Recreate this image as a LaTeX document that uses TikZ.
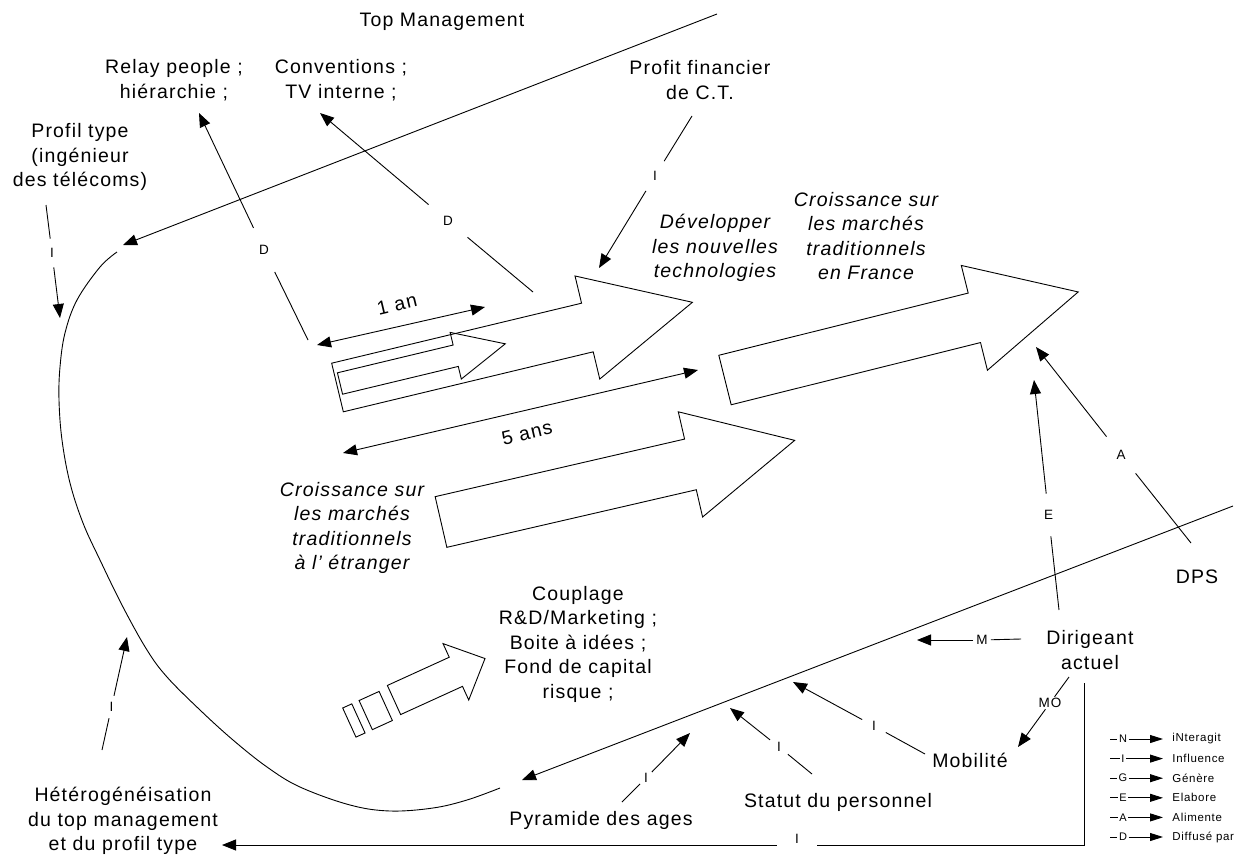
\documentclass[tikz,border=0pt]{standalone}
\usepackage{fontspec}
\setmainfont{Liberation Sans}[LetterSpace=6]
\usetikzlibrary{arrows.meta}
\newcommand\blockarr[7]{%
  \begin{scope}[shift={(#1,#2)},rotate=#3]
    \draw[ba] (0,-#6) -- (#5,-#6) -- (#5,-#7) -- (#4,0) -- (#5,#7) -- (#5,#6) -- (0,#6) -- cycle;
  \end{scope}}
\begin{document}
\begin{tikzpicture}[x=1pt,y=-1pt,line width=0.9pt,
  txt/.style={align=center,inner sep=0pt,font=\fontsize{19.5}{24.5}\selectfont},
  itx/.style={align=center,inner sep=0pt,font=\fontsize{19.5}{24.5}\selectfont\itshape},
  lab/.style={circle,inner sep=0pt,minimum size=#1,font=\fontsize{13.5}{14}\selectfont},
  lab/.default=30,
  labr/.style={rectangle,inner sep=#1,font=\fontsize{13.5}{14}\selectfont},
  labr/.default=1pt,
  arr/.style={-{Triangle[length=14pt,width=11pt]}},
  dbl/.style={{Triangle[length=14pt,width=11pt]}-{Triangle[length=14pt,width=11pt]}},
  ba/.style={line join=miter},
  lgarr/.style={-{Triangle[length=13pt,width=8pt]}}
]
\fill[white] (0,0) rectangle (1243,857);
\useasboundingbox (0,0) rectangle (1243,857);

% ---------- texts ----------
\node[txt] (top) at (442,22) {Top Management};
\node[txt] (relay) at (174,80) {Relay people ;\\hiérarchie ;};
\node[txt] (conv) at (341,80) {Conventions ;\\TV interne ;};
\node[txt] (profit) at (700,80) {Profit financier\\de C.T.};
\node[txt] (profil) at (80,157) {Profil type\\(ingénieur\\des télécoms)};
\node[itx] (dev) at (715,248) {Développer\\les nouvelles\\technologies};
\node[itx] (france) at (866,236) {Croissance sur\\les marchés\\traditionnels\\en France};
\node[itx] (etr) at (352,528) {Croissance sur\\les marchés\\traditionnels\\à l' étranger};
\node[txt] (coupl) at (578,644) {Couplage\\R\&D/Marketing ;\\Boite à idées ;\\Fond de capital\\risque ;};
\node[txt] (hetero) at (123,821) {Hétérogénéisation\\du top management\\et du profil type};
\node[txt] (pyr) at (601,820) {Pyramide des ages};
\node[txt] (statut) at (838,802) {Statut du personnel};
\node[txt] (mob) at (970,760) {Mobilité};
\node[txt] (dir) at (1090,650) {Dirigeant\\actuel};
\node[txt] (dps) at (1197,577) {DPS};
\node[txt,rotate=13.5] (unan) at (397,304) {1 an};
\node[txt,rotate=13.5] (cinq) at (527,433) {5 ans};

% ---------- block arrows ----------
\blockarr{337.5}{387.5}{13.5}{365}{257}{25}{53}
\blockarr{340}{383.5}{13.5}{170}{119}{11}{24}
\blockarr{725}{380}{14}{364}{257}{25.5}{54}
\blockarr{441}{522}{13}{363}{256}{26}{54}
\blockarr{394}{700}{24.5}{100}{68}{16}{31}
\begin{scope}[shift={(394,700)},rotate=24.5]
  \draw (-32,-14) rectangle (-10,18);
  \draw (-50,-14) rectangle (-40,18);
\end{scope}

% ---------- big cycle ----------
\coordinate (tmA) at (717,14);
\coordinate (tmB) at (123,245);
\draw[arr] (tmA) -- (tmB);
\draw plot[smooth,tension=0.6] coordinates {(117,252) (100,267) (77,300) (65,333) (60,367) (59,400) (62,440) (70,483) (83,523) (100,560) (123,607) (147,650) (167,677) (200,710) (233,740) (267,767) (300,787) (350,805) (390,811) (433,808) (467,800) (500,788)};
\coordinate (brA) at (1233,506);
\coordinate (brB) at (522,780);
\draw[arr] (brA) -- (brB);

% ---------- labelled connectors ----------
\coordinate (rlA) at (308,340); \coordinate (rlB) at (199,113);
\node[lab=48] (rlD) at (264,250) {D};
\draw (rlA) -- (rlD); \draw[arr] (rlD) -- (rlB);

\coordinate (cvA) at (533,292); \coordinate (cvB) at (320,113);
\node[lab=50] (cvD) at (448,221) {D};
\draw (cvA) -- (cvD); \draw[arr] (cvD) -- (cvB);

\coordinate (pfA) at (692,116); \coordinate (pfB) at (599,268);
\node[lab=34] (pfI) at (655,176) {I};
\draw (pfA) -- (pfI); \draw[arr] (pfI) -- (pfB);

\coordinate (ptA) at (46,205); \coordinate (ptB) at (60,318);
\node[lab=28] (ptI) at (52,253) {I};
\draw (ptA) -- (ptI); \draw[arr] (ptI) -- (ptB);

\coordinate (htA) at (102,750); \coordinate (htB) at (127,637);
\node[lab=22] (htI) at (111.5,707) {I};
\draw (htA) -- (htI); \draw[arr] (htI) -- (htB);

\coordinate (pyA) at (622,802); \coordinate (pyB) at (690,733);
\node[lab=16] (pyI) at (646,778) {I};
\draw (pyA) -- (pyI); \draw[arr] (pyI) -- (pyB);

\coordinate (stA) at (812,774); \coordinate (stB) at (730,708);
\node[lab=22] (stI) at (779,747) {I};
\draw (stA) -- (stI); \draw[arr] (stI) -- (stB);

\coordinate (moA) at (925,754); \coordinate (moB) at (793,682);
\node[lab=26] (moI) at (874,726) {I};
\draw (moA) -- (moI); \draw[arr] (moI) -- (moB);

\coordinate (mA) at (1021,639); \coordinate (mB) at (917,640);
\node[lab=17] (mM) at (982,640) {M};
\draw (mA) -- (mM); \draw[arr] (mM) -- (mB);

\coordinate (mobA) at (1069,677); \coordinate (mobB) at (1018,747);
\node[labr] (mobL) at (1050,703) {MO};
\draw (mobA) -- (mobL); \draw[arr] (mobL) -- (mobB);

\coordinate (eA) at (1059,610); \coordinate (eB) at (1034,380);
\node[lab=42] (eE) at (1048.5,515) {E};
\draw (eA) -- (eE); \draw[arr] (eE) -- (eB);

\coordinate (aA) at (1191,543); \coordinate (aB) at (1036,347);
\node[lab=46] (aL) at (1121,455) {A};
\draw (aA) -- (aL); \draw[arr] (aL) -- (aB);

\coordinate (bA) at (1084,683); \coordinate (bC) at (1084,845); \coordinate (bB) at (222,845);
\node[lab=40] (bI) at (797,839) {I};
\draw (bA) -- (bC) -- (bI.east |- bC);
\draw[arr] (bI.west |- bC) -- (bB);

% ---------- durations ----------
\coordinate (anA) at (317,345); \coordinate (anB) at (485,307);
\draw[dbl] (anA) -- (anB);
\coordinate (ansA) at (343,453); \coordinate (ansB) at (698,370);
\draw[dbl] (ansA) -- (ansB);

% ---------- legend ----------
\foreach \k/\L/\T in {0/N/iNteragit,1/I/Influence,2/G/Génère,3/E/Elabore,4/A/Alimente,5/D/Diffusé par}{
  \pgfmathsetmacro\yy{739+19.6*\k}
  \coordinate (lgs\k) at (1110,\yy);
  \coordinate (lge\k) at (1163,\yy);
  \node[inner sep=1.2pt,font=\fontsize{11}{11}\selectfont] (lgl\k) at (1123,\yy) {\L};
  \draw (lgs\k) -- (lgl\k);
  \draw[lgarr] (lgl\k) -- (lge\k);
  \node[anchor=west,inner sep=0pt,font=\fontsize{11.5}{11.5}\selectfont] (lgt\k) at (1172,\yy) {\T};
}
\end{tikzpicture}
\end{document}
